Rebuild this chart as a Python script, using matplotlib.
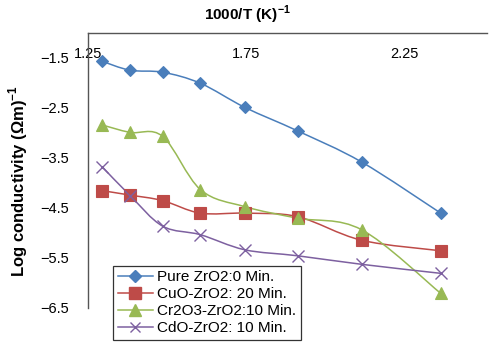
import matplotlib
matplotlib.use("Agg")
import matplotlib.pyplot as plt
import numpy as np
from matplotlib.path import Path
from matplotlib.patches import PathPatch
from matplotlib.lines import Line2D

plt.rcParams['font.family'] = ['Liberation Sans', 'DejaVu Sans']

# ==============================
# DATA
# ==============================
inv_temp = [1.294, 1.383, 1.486, 1.605, 1.745, 1.912, 2.114, 2.364]

pure_zro2 = [-1.58, -1.76, -1.80, -2.02, -2.50, -2.97, -3.59, -4.61]
cuo_zro2 = [-4.16, -4.25, -4.36, -4.61, -4.61, -4.68, -5.15, -5.36]
cr2o3_zro2 = [-2.85, -3.00, -3.08, -4.14, -4.48, -4.71, -4.94, -6.21]
cdo_zro2 = [-3.68, -4.26, -4.87, -5.04, -5.34, -5.46, -5.63, -5.81]

series_names = ["Pure ZrO2:0 Min.", "CuO-ZrO2: 20 Min.",
                "Cr2O3-ZrO2:10 Min.", "CdO-ZrO2: 10 Min."]
series_values = [pure_zro2, cuo_zro2, cr2o3_zro2, cdo_zro2]
series_colors = ["#4A7EBB", "#BE4B48", "#98B954", "#7D60A0"]
series_markers = ["D", "s", "^", "x"]
series_msize = [6.5, 8.5, 9, 8]

x_ticks = [1.25, 1.75, 2.25]
y_ticks = [-6.5, -5.5, -4.5, -3.5, -2.5, -1.5]


def smooth_path(xs, ys):
    # Excel-like smoothed line: cubic bezier through every point
    pts = np.column_stack([xs, ys])
    n = len(pts)
    verts = [pts[0]]
    codes = [Path.MOVETO]
    for i in range(n - 1):
        p0 = pts[max(i - 1, 0)]
        p1 = pts[i]
        p2 = pts[i + 1]
        p3 = pts[min(i + 2, n - 1)]
        c1 = p1 + (p2 - p0) / 6.0
        c2 = p2 - (p3 - p1) / 6.0
        verts += [c1, c2, p2]
        codes += [Path.CURVE4] * 3
    return Path(verts, codes)


fig = plt.figure(figsize=(5.0, 3.64), dpi=100)
ax = fig.add_axes([0.176, 0.154, 0.798, 0.755])

handles = []
for name, vals, col, mk, ms in zip(series_names, series_values,
                                   series_colors, series_markers, series_msize):
    patch = PathPatch(smooth_path(inv_temp, vals), facecolor="none",
                      edgecolor=col, linewidth=1.1, zorder=2)
    ax.add_patch(patch)
    ax.plot(inv_temp, vals, linestyle="none", marker=mk, markersize=ms,
            color=col, markeredgewidth=1.0 if mk == "x" else 0.8, zorder=3)
    handles.append(Line2D([], [], color=col, marker=mk, markersize=ms * 0.95,
                          linewidth=1.1, label=name))

ax.set_xlim(1.25, 2.51)
ax.set_ylim(-6.5, -1.02)
ax.set_xticks(x_ticks)
ax.set_xticklabels(["1.25", "1.75", "2.25"])
ax.set_yticks(y_ticks)
ax.set_yticklabels(["\u22126.5", "\u22125.5", "\u22124.5", "\u22123.5",
                    "\u22122.5", "\u22121.5"])

ax.xaxis.tick_top()
ax.tick_params(axis="x", length=0, pad=-20, labelsize=10.5)
ax.tick_params(axis="y", length=0, pad=14, labelsize=10.5)

for side in ["right", "bottom"]:
    ax.spines[side].set_visible(False)
for side in ["left", "top"]:
    ax.spines[side].set_color("#555555")
    ax.spines[side].set_linewidth(1.0)

fig.text(0.494, 0.958, "1000/T (K)$^{\\mathregular{-1}}$", ha="center",
         va="center", fontsize=11, fontweight="bold")
fig.text(0.036, 0.503, "Log conductivity (\u03a9m)$^{\\mathregular{-1}}$",
         ha="center", va="center", rotation=90, fontsize=12,
         fontweight="bold")

leg = fig.legend(handles=handles, loc="upper left",
                 bbox_to_anchor=(0.226, 0.27), fontsize=11,
                 frameon=True, fancybox=False, edgecolor="black",
                 handlelength=2.3, handletextpad=0.3, labelspacing=0.2,
                 borderpad=0.3, borderaxespad=0)
leg.get_frame().set_linewidth(0.9)

fig.savefig("out.png", dpi=100)
